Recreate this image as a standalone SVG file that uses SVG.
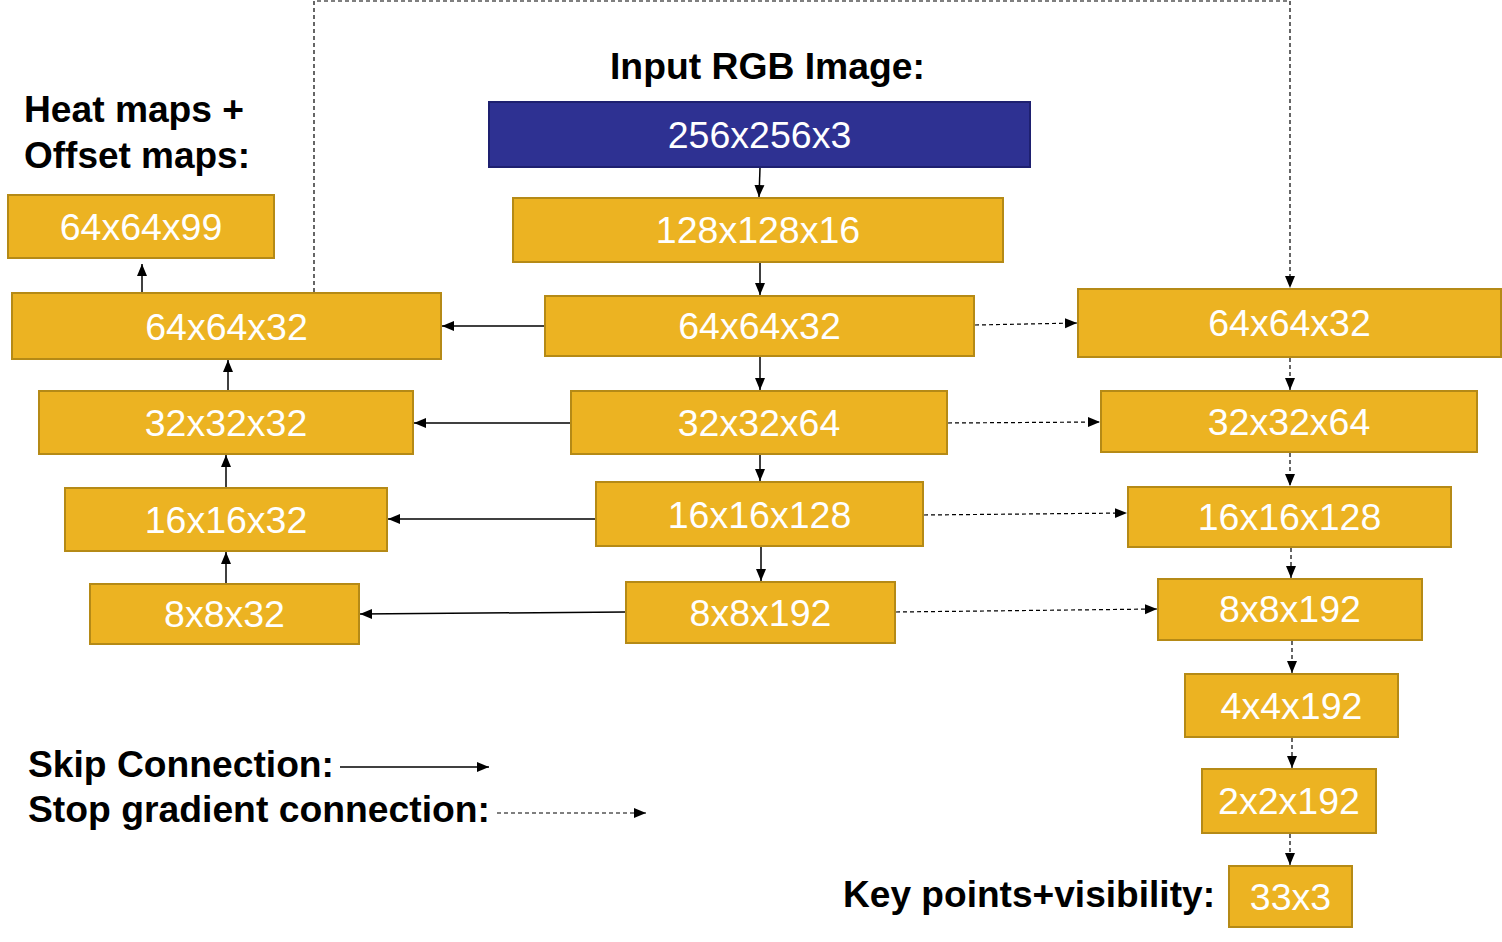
<svg xmlns="http://www.w3.org/2000/svg" width="1502" height="942" viewBox="0 0 1502 942">
<defs>
<style>
.b{fill:#ECB322;stroke:#B58A16;stroke-width:2}
.in{fill:#2E3192;stroke:#1E2070;stroke-width:2}
.t{font-family:"Liberation Sans",Arial,sans-serif;font-size:37.5px;fill:#fff;text-anchor:middle}
.h{font-family:"Liberation Sans",Arial,sans-serif;font-size:37px;font-weight:bold;fill:#000}
.s{stroke:#000;stroke-width:1.5;fill:none;marker-end:url(#ah)}
.d{stroke:#000;stroke-width:1.2;fill:none;stroke-dasharray:4 3;marker-end:url(#ah)}
</style>
<marker id="ah" markerUnits="userSpaceOnUse" markerWidth="12" markerHeight="12" viewBox="0 0 12 12" refX="12" refY="6" orient="auto">
<path d="M0,1 L12,6 L0,11 Z" fill="#000"/>
</marker>
</defs>
<rect width="1502" height="942" fill="#fff"/>
<text class="h" x="610" y="79" textLength="315" lengthAdjust="spacingAndGlyphs">Input RGB Image:</text>
<text class="h" x="24" y="122" textLength="220" lengthAdjust="spacingAndGlyphs">Heat maps +</text>
<text class="h" x="24" y="168" textLength="226" lengthAdjust="spacingAndGlyphs">Offset maps:</text>
<text class="h" x="28" y="777" textLength="306" lengthAdjust="spacingAndGlyphs">Skip Connection:</text>
<text class="h" x="28" y="822" textLength="462" lengthAdjust="spacingAndGlyphs">Stop gradient connection:</text>
<text class="h" x="843" y="907" textLength="372" lengthAdjust="spacingAndGlyphs">Key points+visibility:</text>

<g id="connectors">
<path class="s" d="M760,168 L759,197"/>
<path class="s" d="M760,263 L760,295"/>
<path class="s" d="M760,357 L760,390"/>
<path class="s" d="M760,455 L760,481"/>
<path class="s" d="M761,547 L761,581"/>
<path class="s" d="M544,326 L442,326"/>
<path class="s" d="M570,423 L414,423"/>
<path class="s" d="M595,519 L388,519"/>
<path class="s" d="M625,612 L360,614"/>
<path class="s" d="M226,583 L226,552"/>
<path class="s" d="M226,487 L226,455"/>
<path class="s" d="M228,390 L228,360"/>
<path class="s" d="M142,292 L142,264"/>
<path class="d" d="M314,292 L314,1 L1290,1 L1290,288"/>
<path class="d" d="M975,325 L1077,323"/>
<path class="d" d="M948,423 L1100,422"/>
<path class="d" d="M924,515 L1127,513"/>
<path class="d" d="M896,612 L1157,609"/>
<path class="d" d="M1290,358 L1290,390"/>
<path class="d" d="M1290,453 L1290,486"/>
<path class="d" d="M1291,548 L1291,578"/>
<path class="d" d="M1292,641 L1292,673"/>
<path class="d" d="M1292,738 L1292,768"/>
<path class="d" d="M1290,834 L1290,865"/>
<path class="s" d="M340,767 L489,767"/>
<path class="d" d="M497,813 L646,813"/>
</g>

<g id="n_input"><rect class="in" x="489" y="102" width="541" height="65"/><text class="t" x="759.5" y="148">256x256x3</text></g>
<g id="n_c128"><rect class="b" x="513" y="198" width="490" height="64"/><text class="t" x="758" y="243">128x128x16</text></g>
<g id="n_c64"><rect class="b" x="545" y="296" width="429" height="60"/><text class="t" x="759.5" y="339">64x64x32</text></g>
<g id="n_c32"><rect class="b" x="571" y="391" width="376" height="63"/><text class="t" x="759" y="436">32x32x64</text></g>
<g id="n_c16"><rect class="b" x="596" y="482" width="327" height="64"/><text class="t" x="759.5" y="528">16x16x128</text></g>
<g id="n_c8"><rect class="b" x="626" y="582" width="269" height="61"/><text class="t" x="760.5" y="626">8x8x192</text></g>

<g id="n_l99"><rect class="b" x="8" y="195" width="266" height="63"/><text class="t" x="141" y="240">64x64x99</text></g>
<g id="n_l64"><rect class="b" x="12" y="293" width="429" height="66"/><text class="t" x="226.5" y="340">64x64x32</text></g>
<g id="n_l32"><rect class="b" x="39" y="391" width="374" height="63"/><text class="t" x="226" y="436">32x32x32</text></g>
<g id="n_l16"><rect class="b" x="65" y="488" width="322" height="63"/><text class="t" x="226" y="533">16x16x32</text></g>
<g id="n_l8"><rect class="b" x="90" y="584" width="269" height="60"/><text class="t" x="224.5" y="627">8x8x32</text></g>

<g id="n_r64"><rect class="b" x="1078" y="289" width="423" height="68"/><text class="t" x="1289.5" y="336">64x64x32</text></g>
<g id="n_r32"><rect class="b" x="1101" y="391" width="376" height="61"/><text class="t" x="1289" y="435">32x32x64</text></g>
<g id="n_r16"><rect class="b" x="1128" y="487" width="323" height="60"/><text class="t" x="1289.5" y="530">16x16x128</text></g>
<g id="n_r8"><rect class="b" x="1158" y="579" width="264" height="61"/><text class="t" x="1290" y="622">8x8x192</text></g>
<g id="n_r4"><rect class="b" x="1185" y="674" width="213" height="63"/><text class="t" x="1291.5" y="719">4x4x192</text></g>
<g id="n_r2"><rect class="b" x="1202" y="769" width="174" height="64"/><text class="t" x="1289" y="814">2x2x192</text></g>
<g id="n_out"><rect class="b" x="1229" y="866" width="123" height="61"/><text class="t" x="1290.5" y="910">33x3</text></g>
</svg>
